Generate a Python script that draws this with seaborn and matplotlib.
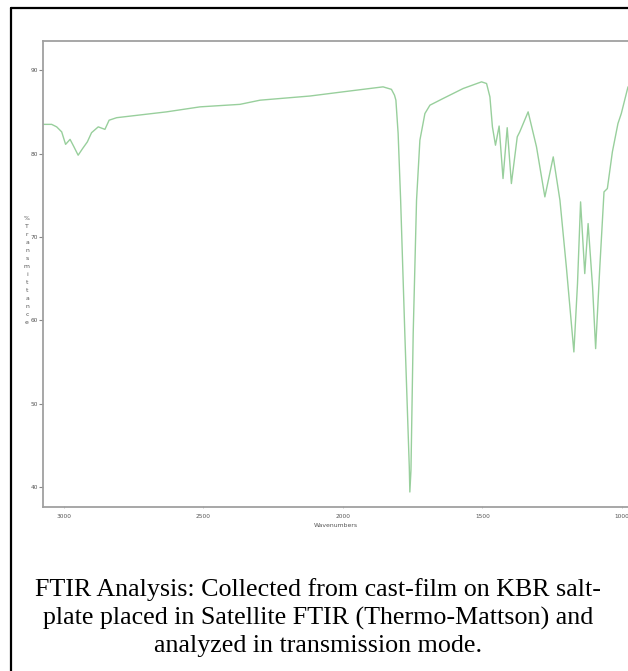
import matplotlib
matplotlib.use("Agg")
import matplotlib.pyplot as plt
from matplotlib.lines import Line2D
import seaborn as sns
import pandas as pd

wavenumbers = [3075, 3044, 3026, 3008, 2994, 2978, 2964, 2949, 2933, 2916, 2901,
               2877, 2853, 2838, 2811, 2632, 2512, 2369, 2297, 2118, 2000, 1856,
               1826, 1815, 1810, 1802, 1793, 1778, 1762, 1760, 1756, 1748, 1736,
               1724, 1706, 1688, 1641, 1569, 1503, 1485, 1473, 1464, 1453, 1440,
               1426, 1411, 1396, 1375, 1366, 1336, 1306, 1276, 1246, 1222, 1199,
               1172, 1159, 1148, 1133, 1121, 1105, 1094, 1079, 1064, 1052, 1034,
               1014, 1002, 978]
transmittance = [83.5, 83.5, 83.2, 82.6, 81.1, 81.7, 80.8, 79.8, 80.6, 81.4, 82.5,
                 83.2, 82.9, 84.0, 84.3, 85.0, 85.6, 85.9, 86.4, 86.9, 87.4, 88.0,
                 87.7, 87.0, 86.4, 82.4, 74.4, 58.4, 42.4, 39.4, 42.0, 58.4, 74.4,
                 81.6, 84.8, 85.8, 86.6, 87.8, 88.6, 88.4, 86.8, 83.2, 81.0, 83.3,
                 77.0, 83.1, 76.4, 82.0, 82.6, 85.0, 80.8, 74.8, 79.6, 74.4, 66.4,
                 56.2, 64.4, 74.2, 65.6, 71.6, 64.0, 56.6, 66.4, 75.4, 75.8, 80.2,
                 83.6, 84.8, 88.0]
x_ticks = [3000, 2500, 2000, 1500, 1000]
y_ticks = [40, 50, 60, 70, 80, 90]
x_label = "Wavenumbers"
y_label = "% Transmittance"
caption_lines = ["FTIR Analysis: Collected from cast-film on KBR salt-",
                 "plate placed in Satellite FTIR (Thermo-Mattson) and",
                 "analyzed in transmission mode."]

sns.set_style("white")
plt.rcParams['font.family'] = ['DejaVu Sans']

W, H = 628, 671
fig = plt.figure(figsize=(W / 100, H / 100), dpi=100)
fig.patch.set_facecolor("white")

ax_left, ax_top, ax_bottom = 43, 41, 507
ax = fig.add_axes([ax_left / W, 1 - ax_bottom / H, 1 - ax_left / W, (ax_bottom - ax_top) / H])

df = pd.DataFrame({"wn": wavenumbers, "T": transmittance})
sns.lineplot(data=df, x="wn", y="T", ax=ax, color="#98cf9c", linewidth=1.0,
             estimator=None, sort=False)

ax.set_xlim(3075, 978)
ax.set_ylim(37.6, 93.5)
ax.set_xticks(x_ticks)
ax.set_yticks(y_ticks)
ax.set_xticklabels([str(t) for t in x_ticks])
ax.set_yticklabels([str(t) for t in y_ticks])

spine_color = "#a0a0a0"
for side in ["left", "top", "bottom"]:
    ax.spines[side].set_visible(True)
    ax.spines[side].set_color(spine_color)
    ax.spines[side].set_linewidth(1.3)
ax.spines["right"].set_visible(False)

ax.tick_params(axis="y", which="major", direction="out", length=3, width=0.8,
               color="#888888", labelsize=4.2, labelcolor="#555555", pad=0.5, left=True)
ax.tick_params(axis="x", which="major", direction="inout", length=2, width=0.6,
               color="#bbbbbb", labelsize=4.2, labelcolor="#555555", pad=4, bottom=True)

ax.set_xlabel(x_label, fontsize=4.4, color="#555555", labelpad=3)
ax.set_ylabel("")
stacked = y_label[0] + "\n" + "\n".join(list(y_label[2:]))
fig.text(27 / W, 1 - 271 / H, stacked, fontsize=4.4, color="#555555",
         ha="center", va="center", linespacing=1.75)

# caption
caption_y = [590, 618, 646]
for line, yy in zip(caption_lines, caption_y):
    fig.text(318 / W, 1 - yy / H, line, fontsize=18.7, family="Liberation Serif",
             color="black", ha="center", va="center")

# border lines
fig.add_artist(Line2D([11 / W, 1.0], [1 - 7.5 / H, 1 - 7.5 / H], color="black",
                      linewidth=1.6, transform=fig.transFigure))
fig.add_artist(Line2D([11 / W, 11 / W], [0.0, 1 - 7.5 / H], color="black",
                      linewidth=1.6, transform=fig.transFigure))

fig.savefig("out.png", dpi=100)
